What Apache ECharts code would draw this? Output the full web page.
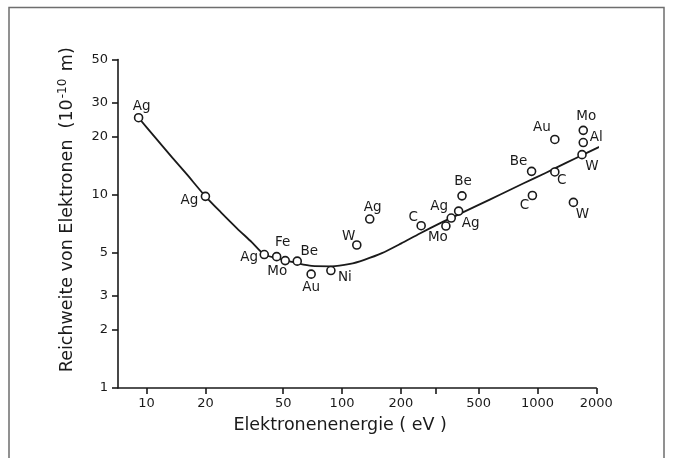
<!DOCTYPE html>
<html>
<head>
<meta charset="utf-8">
<script src="https://cdn.jsdelivr.net/npm/echarts@6/dist/echarts.min.js"></script>
<style>html,body{margin:0;padding:0;background:#fff;}#chart{width:675px;height:458px;}</style>
</head>
<body>
<div id="chart"></div>
<script>
// Measured points (electron energy in eV, range in 10^-10 m)
const elements = ['Ag','Ag','Ag','Fe','Mo','Be','Au','Ni','W','Ag','C','Mo','Ag','Ag','Be','C','Be','Au','C','W','Mo','Al','W'];
const energies = [9.1, 20, 40, 46.3, 51.2, 59, 69.5, 87.7, 119, 138.6, 254, 340, 362, 395, 411, 942, 933, 1227, 1227, 1527, 1715, 1715, 1690];
const ranges   = [25, 9.8, 4.9, 4.78, 4.56, 4.53, 3.88, 4.05, 5.49, 7.48, 6.91, 6.88, 7.57, 8.22, 9.86, 9.9, 13.2, 19.3, 13.1, 9.12, 21.5, 18.6, 16.1];

// Fitted curve
const curveEnergy = [9.1, 11, 13.5, 16, 20, 24, 29, 34.5, 40, 46.3, 51.5, 59, 70, 88, 110, 130, 160, 200, 250, 320, 400, 500, 650, 850, 1100, 1400, 1800, 2300, 2540];
const curveRange  = [25, 19.9, 15.6, 12.8, 9.8, 8.1, 6.7, 5.68, 4.9, 4.7, 4.57, 4.42, 4.28, 4.26, 4.38, 4.6, 4.98, 5.58, 6.3, 7.15, 7.95, 8.85, 10.05, 11.45, 12.95, 14.6, 16.5, 18.6, 19.6];

// Axis ticks
const xTicks = [10, 20, 50, 100, 200, 300, 500, 1000, 2000];
const xTickLabels = [10, 20, 50, 100, 200, 500, 1000, 2000];
const yTicks = [1, 2, 3, 5, 10, 20, 30, 50];

// label placement (style): offsets from the marker centre
const labelOffsets = [[3,-11],[-16,4],[-15,3],[6,-14],[-8,11],[12,-10],[0,13],[14,7],[-8,-9],[3,-12],[-8,-8],[-8,11],[-12,-12],[12,12],[1,-14],[-8,10],[-13,-10],[-13,-12],[7,9],[9,12],[3,-14],[13,-5],[10,12]];

const FONT = 'DejaVu Sans';
const ink = '#1a1a1a';

const pts = energies.map((e, i) => ({
  value: [e, ranges[i]],
  name: elements[i],
  label: { offset: labelOffsets[i] }
}));
const curve = curveEnergy.map((e, i) => [e, curveRange[i]]);

const chart = echarts.init(document.getElementById('chart'), null, {renderer: 'canvas'});
chart.setOption({
  backgroundColor: '#ffffff',
  animation: false,
  grid: { left: 118, right: 78.7, top: 59.5, bottom: 70, containLabel: false },
  graphic: [
    { type: 'polyline', shape: { points: [[9, 470], [9, 7.5], [664, 7.5], [664, 470]] },
      style: { stroke: '#6e6e6e', lineWidth: 1.5, fill: null }, silent: true }
  ],
  xAxis: {
    type: 'log', logBase: 10, min: 7.14, max: 2000,
    name: 'Elektronenenergie ( eV )', nameLocation: 'middle', nameGap: 28,
    nameTextStyle: { fontFamily: FONT, fontSize: 17.5, color: ink, padding: [0, 34, 0, 0] },
    axisLine: { show: true, onZero: false, lineStyle: { color: ink, width: 1.6 } },
    axisTick: { show: true, inside: false, length: 6, customValues: xTicks, lineStyle: { color: ink, width: 1.6 } },
    axisLabel: { customValues: xTickLabels, formatter: v => String(Math.round(v)), fontFamily: FONT, fontSize: 13, color: ink, margin: 9 },
    splitLine: { show: false }, minorTick: { show: false }
  },
  yAxis: {
    type: 'log', logBase: 10, min: 1, max: 50,
    name: '{a|Reichweite von Elektronen  (10}{s|-10}{a| m)}', nameLocation: 'middle', nameGap: 40, nameRotate: 90,
    nameTextStyle: { fontFamily: FONT, fontSize: 17.5, color: ink, padding: [0, 0, 0, 28],
      rich: { a: { fontFamily: FONT, fontSize: 17.5, color: ink },
              s: { fontFamily: FONT, fontSize: 12, color: ink, verticalAlign: 'top', padding: [0, 2, 9, 1] } } },
    axisLine: { show: true, onZero: false, lineStyle: { color: ink, width: 1.6 } },
    axisTick: { show: true, inside: false, length: 6, customValues: yTicks, lineStyle: { color: ink, width: 1.6 } },
    axisLabel: { customValues: yTicks, formatter: v => String(Math.round(v)), fontFamily: FONT, fontSize: 13, color: ink, margin: 10 },
    splitLine: { show: false }, minorTick: { show: false }
  },
  series: [
    {
      type: 'line', data: curve, smooth: 0.25, showSymbol: false, clip: false,
      lineStyle: { color: ink, width: 1.8, cap: 'round', join: 'round' }, z: 2, silent: true
    },
    {
      type: 'scatter', data: pts, symbol: 'circle', symbolSize: 8, clip: false, z: 3,
      itemStyle: { color: '#ffffff', borderColor: ink, borderWidth: 1.6, opacity: 1 },
      label: { show: true, position: 'inside', formatter: p => p.name, fontFamily: FONT, fontSize: 13.5, color: ink,
               align: 'center', verticalAlign: 'middle' }
    }
  ]
});
</script>
</body>
</html>
